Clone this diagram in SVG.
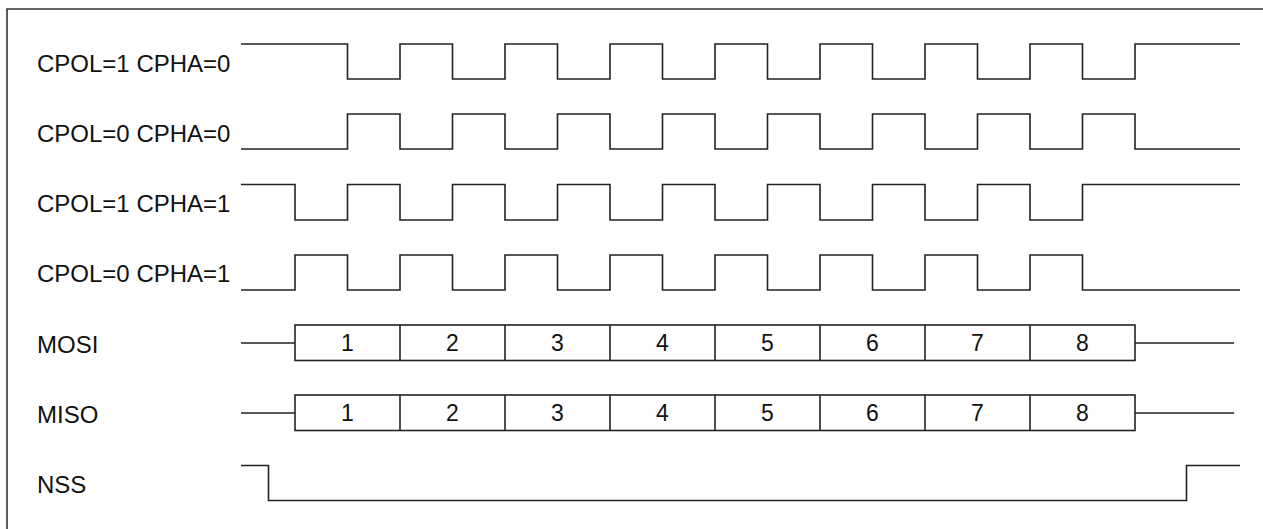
<svg xmlns="http://www.w3.org/2000/svg" width="1263" height="529" viewBox="0 0 1263 529">
<style>
.w{fill:none;stroke:#222;stroke-width:1.6;stroke-linejoin:miter}
.frame{fill:none;stroke:#333;stroke-width:1.6}
.lbl{font-family:"Liberation Sans",Arial,sans-serif;font-size:24px;fill:#111}
.num{font-family:"Liberation Sans",Arial,sans-serif;font-size:23px;fill:#111;text-anchor:middle}
.cell{fill:#fff;stroke:#222;stroke-width:1.6}
</style>
<rect width="1263" height="529" fill="#fff"/>
<path class="frame" d="M7,529 V9 H1263"/>
<g id="cpol1cpha0">
<text class="lbl" x="37" y="71.5">CPOL=1 CPHA=0</text>
<path class="w" d="M241,44 H347.5 V79 H400 V44 H452.5 V79 H505 V44 H557.5 V79 H610 V44 H662.5 V79 H715 V44 H767.5 V79 H820 V44 H872.5 V79 H925 V44 H977.5 V79 H1030 V44 H1082.5 V79 H1135 V44 H1240"/>
</g>
<g id="cpol0cpha0">
<text class="lbl" x="37" y="141.5">CPOL=0 CPHA=0</text>
<path class="w" d="M241,149 H347.5 V114 H400 V149 H452.5 V114 H505 V149 H557.5 V114 H610 V149 H662.5 V114 H715 V149 H767.5 V114 H820 V149 H872.5 V114 H925 V149 H977.5 V114 H1030 V149 H1082.5 V114 H1135 V149 H1240"/>
</g>
<g id="cpol1cpha1">
<text class="lbl" x="37" y="212">CPOL=1 CPHA=1</text>
<path class="w" d="M241,184.5 H295 V220 H347.5 V184.5 H400 V220 H452.5 V184.5 H505 V220 H557.5 V184.5 H610 V220 H662.5 V184.5 H715 V220 H767.5 V184.5 H820 V220 H872.5 V184.5 H925 V220 H977.5 V184.5 H1030 V220 H1082.5 V184.5 H1240"/>
</g>
<g id="cpol0cpha1">
<text class="lbl" x="37" y="282">CPOL=0 CPHA=1</text>
<path class="w" d="M241,290 H295 V255 H347.5 V290 H400 V255 H452.5 V290 H505 V255 H557.5 V290 H610 V255 H662.5 V290 H715 V255 H767.5 V290 H820 V255 H872.5 V290 H925 V255 H977.5 V290 H1030 V255 H1082.5 V290 H1240"/>
</g>
<g id="mosi">
<text class="lbl" x="37" y="352.5">MOSI</text>
<path class="w" d="M241,343 H295 M1135,343 H1234"/>
<rect class="cell" x="295" y="325" width="840" height="35.5"/>
<path class="w" d="M400,325 V360.5 M505,325 V360.5 M610,325 V360.5 M715,325 V360.5 M820,325 V360.5 M925,325 V360.5 M1030,325 V360.5"/>
<text class="num" x="347.5" y="351">1</text>
<text class="num" x="452.5" y="351">2</text>
<text class="num" x="557.5" y="351">3</text>
<text class="num" x="662.5" y="351">4</text>
<text class="num" x="767.5" y="351">5</text>
<text class="num" x="872.5" y="351">6</text>
<text class="num" x="977.5" y="351">7</text>
<text class="num" x="1082.5" y="351">8</text>
</g>
<g id="miso">
<text class="lbl" x="37" y="422.5">MISO</text>
<path class="w" d="M241,413 H295 M1135,413 H1234"/>
<rect class="cell" x="295" y="395" width="840" height="35.5"/>
<path class="w" d="M400,395 V430.5 M505,395 V430.5 M610,395 V430.5 M715,395 V430.5 M820,395 V430.5 M925,395 V430.5 M1030,395 V430.5"/>
<text class="num" x="347.5" y="421">1</text>
<text class="num" x="452.5" y="421">2</text>
<text class="num" x="557.5" y="421">3</text>
<text class="num" x="662.5" y="421">4</text>
<text class="num" x="767.5" y="421">5</text>
<text class="num" x="872.5" y="421">6</text>
<text class="num" x="977.5" y="421">7</text>
<text class="num" x="1082.5" y="421">8</text>
</g>
<g id="nss">
<text class="lbl" x="37" y="492.5">NSS</text>
<path class="w" d="M241,465.5 H268.5 V500.5 H1186.5 V465.5 H1240"/>
</g>
<g id="connectors"></g>
</svg>
